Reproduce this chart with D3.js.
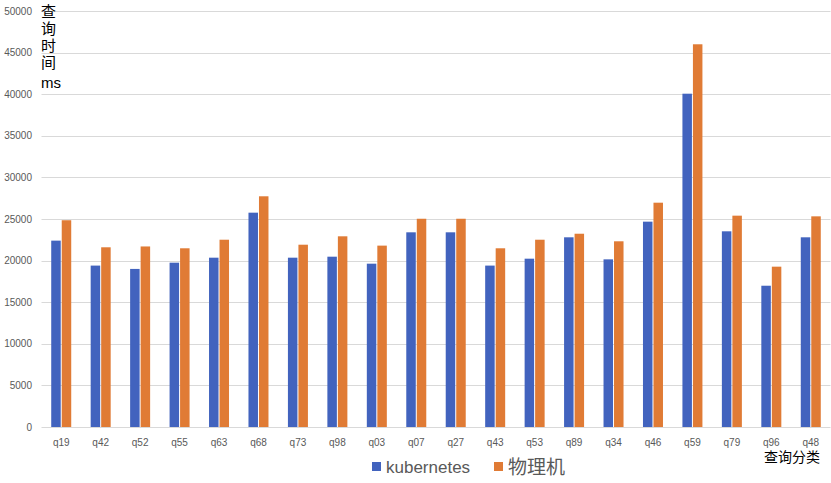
<!DOCTYPE html>
<html><head><meta charset="utf-8">
<script src="https://cdn.jsdelivr.net/npm/d3@7"></script>
<style>body{margin:0;background:#fff}svg{display:block}</style>
</head><body><svg id="c" width="831" height="483"></svg>
<script>
const categories = ["q19","q42","q52","q55","q63","q68","q73","q98","q03","q07","q27","q43","q53","q89","q34","q46","q59","q79","q96","q48"];
const kubernetes = [22400,19400,19000,19750,20350,25760,20350,20470,19630,23400,23400,19400,20230,22800,20150,24680,40060,23520,16980,22800];
const physical = [24850,21600,21700,21480,22510,27730,21910,22920,21800,25030,25030,21480,22510,23230,22320,26960,46000,25400,19270,25320];
const yTicks = [0,5000,10000,15000,20000,25000,30000,35000,40000,45000,50000];
const seriesNames = ["kubernetes","物理机"];
const colors = ["#4263BE","#E07B35"];

(function(){
const svg = d3.select("#c");
const mLeft = 41.5, mRight = 830.5, mTop = 11, mBottom = 427;
const x = d3.scaleBand().domain(categories).range([mLeft, mRight]);
const y = d3.scaleLinear().domain([0,50000]).range([mBottom, mTop]);
const font = "'Liberation Sans', Arial, sans-serif";
const cjk = "'Noto Sans CJK SC', sans-serif";

svg.append("g").selectAll("line").data(yTicks).join("line")
  .attr("x1", mLeft).attr("x2", mRight)
  .attr("y1", d => Math.round(y(d))+0.5).attr("y2", d => Math.round(y(d))+0.5)
  .attr("stroke", "#d9d9d9").attr("stroke-width", 1);

svg.append("g").selectAll("text").data(yTicks).join("text")
  .attr("x", 32).attr("y", d => y(d)).attr("dy", "0.35em")
  .attr("text-anchor", "end").attr("font-family", font).attr("font-size", 10)
  .attr("fill", "#595959").text(d => d);

const bw = 9.5, gap = 1;
[kubernetes, physical].forEach((vals, si) => {
  svg.append("g").selectAll("rect").data(categories).join("rect")
    .attr("x", c => x(c) + x.bandwidth()/2 + (si === 0 ? -bw - gap/2 : gap/2))
    .attr("width", bw)
    .attr("y", (c, i) => y(vals[i]))
    .attr("height", (c, i) => mBottom - y(vals[i]))
    .attr("fill", colors[si]);
});

svg.append("g").selectAll("text").data(categories).join("text")
  .attr("x", c => x(c) + x.bandwidth()/2).attr("y", 442).attr("dy", "0.35em")
  .attr("text-anchor", "middle").attr("font-family", font).attr("font-size", 10)
  .attr("fill", "#595959").text(c => c);

// y axis title: vertical CJK + horizontal "ms"
svg.append("text").attr("x", 48.5).attr("y", 4)
  .style("writing-mode", "vertical-rl").style("text-orientation", "upright")
  .style("letter-spacing", "2px")
  .attr("font-family", cjk).attr("font-size", 15).attr("fill", "#000")
  .text("查询时间");
svg.append("text").attr("x", 41).attr("y", 88)
  .attr("font-family", font).attr("font-size", 15).attr("fill", "#000").text("ms");

svg.append("text").attr("x", 820).attr("y", 462).attr("text-anchor", "end")
  .attr("font-family", cjk).attr("font-size", 14)
  .attr("fill", "#000").text("查询分类");

const legendX = [372, 494];
seriesNames.forEach((n, i) => {
  svg.append("rect").attr("x", legendX[i]).attr("y", 462).attr("width", 9).attr("height", 9).attr("fill", colors[i]);
  svg.append("text").attr("x", legendX[i] + 14).attr("y", 467).attr("dy", "0.35em")
    .attr("font-family", i === 0 ? font : cjk)
    .attr("font-size", i === 0 ? 17 : 19).attr("fill", "#595959").text(n);
});
})();
</script></body></html>
